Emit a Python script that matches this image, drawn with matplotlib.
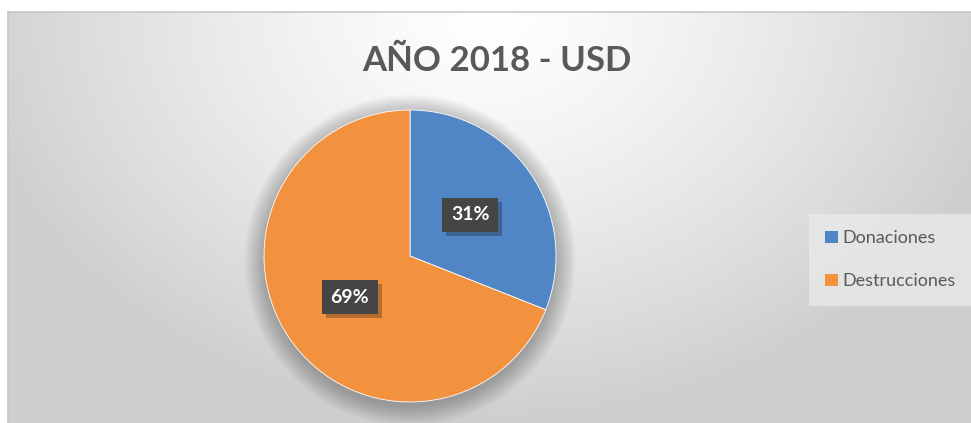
import numpy as np
import matplotlib
matplotlib.use('Agg')
import matplotlib.pyplot as plt
from matplotlib.patches import Circle, Patch, Rectangle
from matplotlib.transforms import IdentityTransform

plt.rcParams['font.family'] = ['Lato', 'DejaVu Sans']

# data
labels = ['Donaciones', 'Destrucciones']
values = [31, 69]
colors = ['#5085C6', '#F2923F']
title = 'AÑO 2018 - USD'

W, H = 971, 423
fig = plt.figure(figsize=(W / 100, H / 100), dpi=100)
fig.patch.set_facecolor('white')

# chart area background (soft radial gradient)
bg = fig.add_axes([8 / W, 0, 1 - 8 / W, 1 - 12 / H])
xx, yy = np.meshgrid(np.linspace(-1, 1, 400), np.linspace(0, 1, 200))
d = np.sqrt((xx / 1.1) ** 2 + (yy / 1.0) ** 2)
d = np.clip(d, 0, 1)
shade = 1.0 - 0.19 * d ** 1.3
img = np.dstack([shade, shade, shade])
bg.imshow(img, aspect='auto', extent=[0, 1, 0, 1], origin='upper', interpolation='bilinear')
bg.set_xlim(0, 1)
bg.set_ylim(0, 1)
bg.set_xticks([])
bg.set_yticks([])
for side in ['right', 'bottom']:
    bg.spines[side].set_visible(False)
for side in ['left', 'top']:
    bg.spines[side].set_color('#c8c8c8')
    bg.spines[side].set_linewidth(1.2)

# title
fig.text(497 / W, 1 - 61 / H, title, ha='center', va='center',
         fontsize=25, fontweight='bold', color='#595959')

# pie
cx, cy, r = 410, 256, 146
ax = fig.add_axes([(cx - r) / W, 1 - (cy + r) / H, 2 * r / W, 2 * r / H])
ax.set_facecolor('none')

# soft shadow below the pie
for i in range(12):
    ax.add_patch(Circle((0, -0.03), 1.0 + 0.012 * i, color='black',
                        alpha=0.025, zorder=0, clip_on=False, lw=0))

wedges, _ = ax.pie(values, colors=colors, startangle=90, counterclock=False,
                   wedgeprops=dict(edgecolor='white', linewidth=0.6))
for w in wedges:
    w.set_zorder(2)

ax.set_xlim(-1, 1)
ax.set_ylim(-1, 1)
ax.set_aspect('equal')
ax.axis('off')

total = sum(values)
start = 90.0
pct_texts = []
for v in values:
    mid = np.deg2rad(start - v / total * 360 / 2)
    start -= v / total * 360
    x, y = 0.5 * np.cos(mid), 0.5 * np.sin(mid)
    t = ax.text(x, y, f'{v}%', ha='center', va='center', fontsize=14,
                fontweight='bold', color='white', zorder=5,
                bbox=dict(boxstyle='square,pad=0.45', fc='#454545', ec='none'))
    pct_texts.append(t)

# drop shadows behind the label boxes
fig.canvas.draw()
renderer = fig.canvas.get_renderer()
for t in pct_texts:
    bb = t.get_bbox_patch().get_window_extent(renderer)
    shadow = Rectangle((bb.x0 + 4, bb.y0 - 4), bb.width, bb.height,
                       transform=IdentityTransform(), fc='black', ec='none',
                       alpha=0.25, zorder=4, clip_on=False)
    ax.add_patch(shadow)

# legend
handles = [Patch(facecolor=c, edgecolor='none') for c in colors]
leg = fig.legend(handles, labels, loc='upper left',
                 bbox_to_anchor=(809 / W, 1 - 214 / H), frameon=True,
                 fontsize=13, labelspacing=1.5, handlelength=0.7,
                 handleheight=0.7, handletextpad=0.25, borderpad=0.9,
                 borderaxespad=0, fancybox=False)
leg.get_frame().set_facecolor('#ececec')
leg.get_frame().set_edgecolor('none')
leg.get_frame().set_alpha(0.7)
for t in leg.get_texts():
    t.set_color('#595959')

fig.savefig('out.png', dpi=100)
